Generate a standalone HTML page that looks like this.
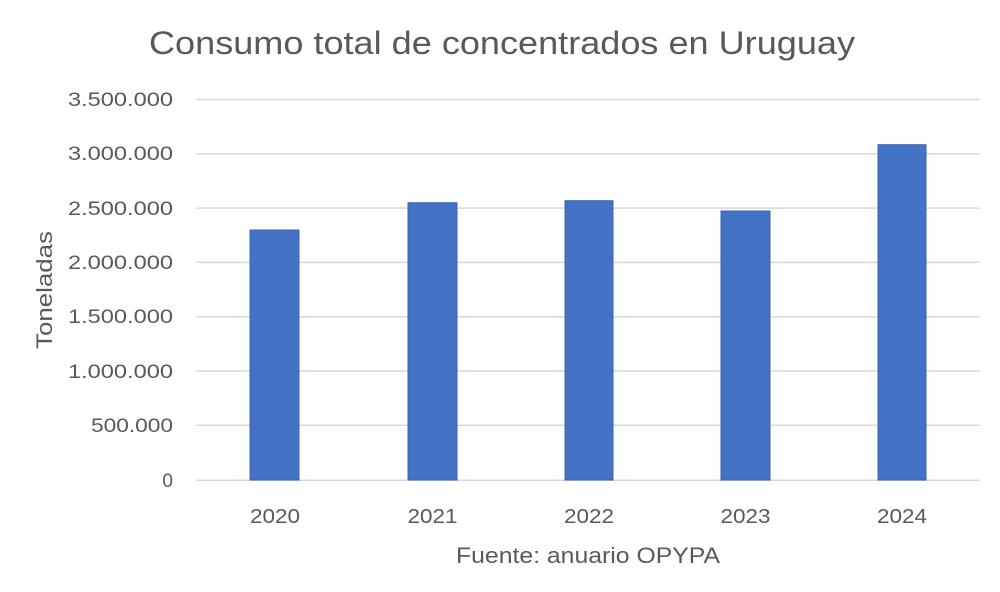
<!DOCTYPE html>
<html><head><meta charset="utf-8"><style>
html,body{margin:0;padding:0;background:#fff;}
svg{display:block;}
text{font-family:"Liberation Sans","DejaVu Sans",sans-serif;fill:#595959;}
</style></head><body>
<svg width="1000" height="592" viewBox="0 0 1000 592" xmlns="http://www.w3.org/2000/svg">
<rect width="1000" height="592" fill="#fff"/>
<text x="502" y="54" text-anchor="middle" font-size="32" textLength="706" lengthAdjust="spacingAndGlyphs">Consumo total de concentrados en Uruguay</text>
<g stroke="#d9d9d9" stroke-width="1.5">
<line x1="196" x2="980" y1="99.5" y2="99.5"/>
<line x1="196" x2="980" y1="153.8" y2="153.8"/>
<line x1="196" x2="980" y1="208.1" y2="208.1"/>
<line x1="196" x2="980" y1="262.4" y2="262.4"/>
<line x1="196" x2="980" y1="316.7" y2="316.7"/>
<line x1="196" x2="980" y1="371" y2="371"/>
<line x1="196" x2="980" y1="425.3" y2="425.3"/>
<line x1="196" x2="980" y1="480.3" y2="480.3"/>
</g>
<g font-size="19" text-anchor="end">
<text x="173" y="106" textLength="105" lengthAdjust="spacingAndGlyphs">3.500.000</text>
<text x="173" y="160" textLength="105" lengthAdjust="spacingAndGlyphs">3.000.000</text>
<text x="173" y="215" textLength="105" lengthAdjust="spacingAndGlyphs">2.500.000</text>
<text x="173" y="269" textLength="105" lengthAdjust="spacingAndGlyphs">2.000.000</text>
<text x="173" y="323" textLength="105" lengthAdjust="spacingAndGlyphs">1.500.000</text>
<text x="173" y="378" textLength="105" lengthAdjust="spacingAndGlyphs">1.000.000</text>
<text x="173" y="432" textLength="82" lengthAdjust="spacingAndGlyphs">500.000</text>
<text x="173" y="487">0</text>
</g>
<g fill="#4472c4" stroke="#3a64ad" stroke-width="1">
<rect x="250" y="230" width="49" height="250"/>
<rect x="408" y="202.7" width="49" height="277.3"/>
<rect x="565" y="200.7" width="48" height="279.3"/>
<rect x="721" y="211" width="49" height="269"/>
<rect x="878" y="144.7" width="48" height="335.3"/>
</g>
<g font-size="20" text-anchor="middle">
<text x="275" y="523" textLength="50" lengthAdjust="spacingAndGlyphs">2020</text>
<text x="432.5" y="523" textLength="50" lengthAdjust="spacingAndGlyphs">2021</text>
<text x="589" y="523" textLength="50" lengthAdjust="spacingAndGlyphs">2022</text>
<text x="745.5" y="523" textLength="50" lengthAdjust="spacingAndGlyphs">2023</text>
<text x="902" y="523" textLength="50" lengthAdjust="spacingAndGlyphs">2024</text>
</g>
<text x="588" y="563" text-anchor="middle" font-size="22" textLength="264" lengthAdjust="spacingAndGlyphs">Fuente: anuario OPYPA</text>
<text transform="translate(52,290) rotate(-90)" text-anchor="middle" font-size="22" textLength="118" lengthAdjust="spacingAndGlyphs">Toneladas</text>
</svg>
</body></html>
